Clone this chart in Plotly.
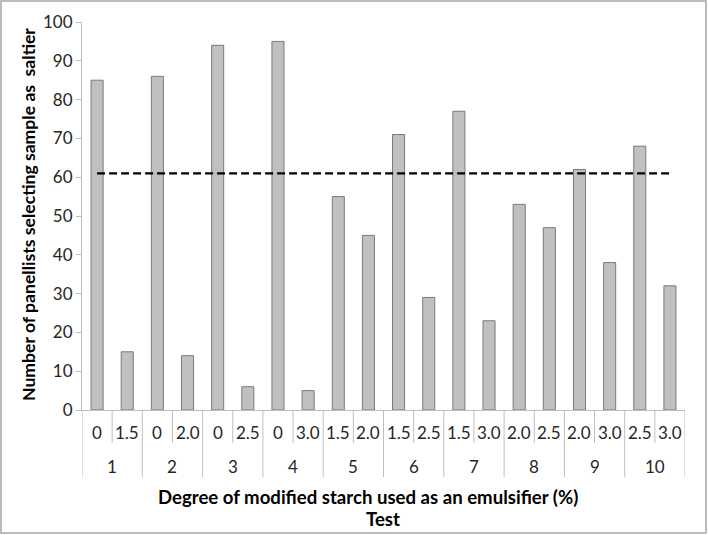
import plotly.graph_objects as go

tests = ["1", "2", "3", "4", "5", "6", "7", "8", "9", "10"]
sub_labels = ["0", "1.5", "0", "2.0", "0", "2.5", "0", "3.0", "1.5", "2.0",
              "1.5", "2.5", "1.5", "3.0", "2.0", "2.5", "2.0", "3.0", "2.5", "3.0"]
values = [85, 15, 86, 14, 94, 6, 95, 5, 55, 45,
          71, 29, 77, 23, 53, 47, 62, 38, 68, 32]
threshold = 61

W, H = 708, 535
L, R, T, B = 82, 23, 22, 125
PW = W - L - R
PH = H - T - B

def px(xp):
    return (xp - L) / PW

def py(yp):
    return (H - B - yp) / PH

FONT = "Lato"
x_idx = list(range(len(values)))

fig = go.Figure()
fig.add_trace(go.Bar(
    x=x_idx, y=values, width=0.4,
    marker=dict(color="#c0c0c0", line=dict(color="#7a7a7a", width=1)),
    hoverinfo="y", showlegend=False,
))
fig.add_trace(go.Scatter(
    x=[x_idx[0], x_idx[-1]], y=[threshold, threshold], mode="lines",
    line=dict(color="black", width=2.2, dash="8px,4px"), showlegend=False,
))

shapes = []
annotations = []
grey = "#bfbfbf"
TXT = "#262626"

def ann(x, y, text, size, color, xref="paper", angle=0):
    return dict(x=x, y=y, xref=xref, yref="paper", text=text, showarrow=False,
                xanchor="center", yanchor="middle", textangle=angle,
                font=dict(family=FONT, size=size, color=color))

for i, lab in enumerate(sub_labels):
    annotations.append(ann(i, py(432), lab, 17, TXT, xref="x"))
for i in range(len(values) + 1):
    xb = i - 0.5
    y_bot = 477 if i % 2 == 0 else 443
    shapes.append(dict(type="line", xref="x", yref="paper", x0=xb, x1=xb,
                       y0=py(410), y1=py(y_bot), line=dict(color=grey, width=1)))
for j, t in enumerate(tests):
    annotations.append(ann(2 * j + 0.5, py(467), t, 17, TXT, xref="x"))

annotations.append(ann(px(368), py(497),
                       "<b>Degree of modified starch used as an emulsifier (%)</b>", 18.6, "black"))
annotations.append(ann(px(383), py(519), "<b>Test</b>", 18.6, "black"))
annotations.append(ann(px(28), py(215),
                       "<b>Number of panellists selecting sample as  saltier</b>", 17.6, "black",
                       angle=-90))

shapes.append(dict(type="rect", xref="paper", yref="paper",
                   x0=px(1), x1=px(706), y0=py(533), y1=py(1),
                   line=dict(color="#a6a6a6", width=1.5)))

fig.update_layout(
    width=W, height=H,
    margin=dict(l=L, r=R, t=T, b=B),
    paper_bgcolor="white", plot_bgcolor="white",
    shapes=shapes, annotations=annotations,
    xaxis=dict(range=[-0.5, len(values) - 0.5], showticklabels=False, ticks="",
               showgrid=False, zeroline=False, showline=True, linecolor=grey, linewidth=1),
    yaxis=dict(range=[0, 100], dtick=10, ticks="outside", ticklen=5, tickcolor=grey,
               showgrid=False, zeroline=False, showline=True, linecolor=grey, linewidth=1,
               tickfont=dict(family=FONT, size=17, color=TXT)),
)

fig.write_html("out.html", config={"displayModeBar": False},
               post_script="document.body.style.margin='0';")
